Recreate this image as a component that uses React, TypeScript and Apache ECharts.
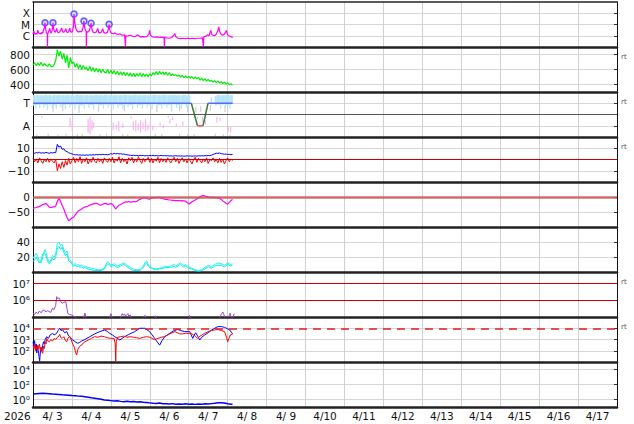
import React, { useEffect, useRef } from 'react';
import * as echarts from 'echarts';

const FONT = 'DejaVu Sans';

// x axis: hours since 2026-04-03 00:00, 15 days shown
const yearLabel = '2026';
const dayLabels = ['4/ 3', '4/ 4', '4/ 5', '4/ 6', '4/ 7', '4/ 8', '4/ 9', '4/10', '4/11', '4/12', '4/13', '4/14', '4/15', '4/16', '4/17'];

// Panel 1: X-ray flux, in units of 1e-6 W/m2 (C1 = 1)
const xrayClassLabels = ['C', 'M', 'X'];
const xray: number[][] = [[0,1.4],[0.5,2.5],[1,1.5],[1.5,1.3],[2,1.6],[2.5,1.4],[3,3.2],[3.5,1.8],[4,1.5],[4.5,1.7],[5,1.4],[5.5,2.0],[6,1.6],[6.5,3.5],[7,5],[7.4,14],[7.8,4],[8.3,1.8],[8.8,1.6],[8.9,0.1],[9.0,0.1],[9.1,1.6],[9.6,2.2],[10.3,4.5],[10.8,2],[11.3,1.8],[11.8,3],[12.3,14],[12.7,4],[13.2,2.5],[13.8,2],[14.6,4.5],[15.1,2.2],[15.7,1.8],[16.3,2.1],[17,3],[17.7,5],[18.2,2.4],[18.8,2],[19.5,2.4],[20.2,4.2],[20.8,2.2],[21.4,1.9],[22,2.3],[22.6,4.8],[23.2,2.3],[23.8,2],[24.4,2.6],[25,8],[25.3,85],[25.7,20],[26.2,6],[26.8,3],[27.5,2.4],[28.2,2.1],[28.9,2.6],[29.5,2.2],[30.2,2.5],[30.8,5],[31.4,20],[31.8,6],[32.3,3],[32.8,2.5],[32.9,0.1],[33.0,0.1],[33.1,2.3],[33.8,2.1],[34.5,2.5],[35.2,5],[35.8,13],[36.3,4],[36.9,2.2],[37.6,2],[38.3,1.9],[39,2.2],[39.9,4.5],[40.5,2],[41.2,1.8],[42,2],[43,4],[43.6,2],[44.3,1.8],[45,1.7],[45.8,2],[46.5,4],[46.9,10.3],[47.3,3.5],[47.9,2],[48.6,1.6],[49.5,1.5],[50.5,1.8],[51.5,1.4],[52.5,1.3],[53.5,1.5],[54.5,1.2],[55.5,1.1],[56.5,1.2],[57.0,0.1],[57.1,0.1],[57.2,1.0],[58.5,0.95],[60,1.1],[61.5,0.9],[63,0.85],[64.5,1.2],[66,0.8],[67.5,0.85],[69,0.8],[70.5,0.9],[71.5,1.6],[71.9,3],[72.3,1.2],[73.5,0.8],[75,0.75],[76.5,0.8],[78,0.7],[79.5,0.75],[80.8,0.7],[81.0,0.1],[81.1,0.1],[81.2,0.7],[82.5,0.65],[84,0.6],[85.5,0.7],[87,1.2],[87.4,1.6],[88,0.8],[89.5,0.6],[91,0.55],[92.5,0.6],[94,0.55],[95.5,0.6],[97,0.55],[98.5,0.6],[100,0.55],[101.5,0.6],[103,0.6],[104.5,0.65],[105.0,0.1],[105.1,0.1],[105.3,0.8],[106.5,0.9],[107.5,1.2],[108.5,1.0],[109.2,2.2],[109.6,3],[110.2,1.3],[111,1.1],[112,1.0],[113,1.4],[114,3],[114.5,6.3],[115,2.5],[116,1.3],[117,1.1],[118,1.4],[118.8,2.2],[119.2,3],[119.8,1.4],[120.5,1.0],[121.5,0.9],[122.3,0.8],[123.1,0.7]];
const flares: number[][] = [[7.4,14],[12.3,14],[25.3,85],[31.4,20],[35.8,13],[46.9,10.3]];

// Panel 2: solar wind speed (km/s), hourly from 0h
const speed = [660,690,650,685,655,695,645,680,655,640,675,645,635,665,720,860,780,845,740,815,690,790,620,760,680,700,630,680,610,665,600,655,605,630,585,640,578,625,570,618,565,610,558,602,565,555,600,548,590,545,585,535,578,528,570,522,565,518,560,512,555,508,550,502,545,510,552,502,545,508,540,500,542,515,560,528,572,530,578,536,570,528,565,524,560,520,540,520,532,508,526,500,522,492,515,488,510,482,505,475,500,475,495,458,485,450,478,445,468,442,455,432,452,425,445,420,438,412,430,405,422,398,410,392];

// Panel 3: IMF sector (T = 3, A = 1); streaks [h0, h1, low, high]
const sectorLabels = ['A', 'T'];
const towardBand: number[][] = [[0,1.4,2.78,3.72],[1.4,2.0,2.45,3.68],[2.0,3.8,2.86,3.74],[3.8,4.4,2.55,3.7],[4.4,6.2,2.9,3.72],[6.2,6.8,2.62,3.66],[6.8,8.6,2.82,3.75],[8.6,9.3,2.4,3.7],[9.3,11.5,2.88,3.72],[11.5,12.2,2.58,3.62],[12.2,14.0,2.8,3.74],[14.0,14.6,2.5,3.7],[14.6,16.8,2.92,3.73],[16.8,17.4,2.6,3.7],[17.4,19.6,2.84,3.72],[19.6,20.3,2.45,3.68],[20.3,22.4,2.9,3.74],[22.4,23.0,2.65,3.7],[23.0,25.5,2.86,3.72],[25.5,26.1,2.42,3.7],[26.1,28.3,2.88,3.75],[28.3,28.9,2.6,3.7],[28.9,31.2,2.82,3.72],[31.2,31.8,2.5,3.66],[31.8,34.0,2.9,3.73],[34.0,34.7,2.58,3.7],[34.7,37.0,2.85,3.72],[37.0,37.6,2.44,3.7],[37.6,40.1,2.9,3.74],[40.1,40.7,2.62,3.7],[40.7,43.0,2.84,3.72],[43.0,43.6,2.52,3.7],[43.6,46.0,2.88,3.75],[46.0,46.6,2.6,3.68],[46.6,49.2,2.86,3.72],[49.2,49.8,2.42,3.7],[49.8,52.0,2.9,3.73],[52.0,52.7,2.6,3.7],[52.7,55.0,2.83,3.72],[55.0,55.6,2.5,3.7],[55.6,58.2,2.88,3.74],[58.2,58.8,2.64,3.7],[58.8,61.0,2.85,3.72],[61.0,61.6,2.46,3.7],[61.6,64.0,2.9,3.75],[64.0,64.7,2.6,3.7],[64.7,67.1,2.84,3.72],[67.1,67.7,2.52,3.68],[67.7,70.0,2.9,3.73],[70.0,70.6,2.6,3.7],[70.6,73.0,2.86,3.72],[73.0,73.6,2.44,3.7],[73.6,76.1,2.9,3.74],[76.1,76.7,2.62,3.7],[76.7,79.0,2.84,3.72],[79.0,79.6,2.5,3.7],[79.6,82.2,2.88,3.75],[82.2,82.8,2.6,3.68],[82.8,85.0,2.86,3.72],[85.0,85.6,2.45,3.7],[85.6,88.1,2.9,3.73],[88.1,88.7,2.6,3.7],[88.7,91.0,2.85,3.72],[91.0,91.6,2.5,3.7],[91.6,94.2,2.9,3.74],[94.2,94.8,2.62,3.7],[94.8,97.0,2.86,3.7],[109.5,110.3,2.9,3.55],[112.0,113.2,2.8,3.65],[113.2,115.4,2.88,3.74],[115.4,116.0,2.48,3.7],[116.0,118.3,2.9,3.72],[118.3,118.9,2.6,3.7],[118.9,121.0,2.85,3.75],[121.0,121.6,2.5,3.7],[121.6,123.2,2.9,3.72]];
const awayBand: number[][] = [[22.5,23.3,0.9,1.7],[23.8,24.5,0.5,1.4],[33.6,34.3,0.4,1.6],[34.8,35.5,0.2,1.8],[36,36.7,0.6,1.5],[37,37.6,0.8,1.3],[49,49.7,0.6,1.3],[51,51.6,0.7,1.1],[52.5,53.1,0.5,1.4],[55,55.6,0.8,1.2],[61.5,62.2,0.6,1.4],[63,63.7,0.5,1.5],[64.5,65.1,0.6,1.2],[66,66.7,0.4,1.5],[67.5,68.1,0.7,1.3],[69,69.7,0.5,1.6],[70.5,71.1,0.6,1.1],[72,72.7,0.7,1.4],[73.5,74.1,0.6,1.0],[78,78.6,1.0,1.3],[80,80.6,0.8,1.1],[84,84.6,1.2,1.6],[85.6,86.2,1.5,1.8],[88,88.6,0.9,1.2],[92,92.6,1.0,1.4],[104,104.6,1.3,1.8],[106,106.6,1.1,1.5],[113,113.7,1.3,1.8],[115,115.6,1.4,1.7],[120,120.7,0.5,1.0],[121.5,122.2,0.4,0.9]];
const grayBand: number[][] = [[2,2.6,0.1,0.25],[9,9.6,0.1,0.3],[15,15.6,0.1,0.22],[20,20.6,0.12,0.28],[27,27.6,0.1,0.25],[30,30.6,0.1,0.3],[41,41.6,0.1,0.24],[45,45.6,0.12,0.3],[55,55.6,0.1,0.26],[58,58.6,0.1,0.22],[75,75.6,0.1,0.28],[79,79.6,0.1,0.25],[90,90.6,0.12,0.3],[95,95.6,0.1,0.24],[99,99.6,0.1,0.26],[112,112.6,0.1,0.3],[117,117.6,0.1,0.25],[121,121.6,0.1,0.22],[12,12.6,2.2,2.8],[18,18.6,2.3,2.85],[28,28.6,2.15,2.8],[40,40.6,2.25,2.85],[48,48.6,2.2,2.8],[56,56.6,2.3,2.85],[76,76.6,2.2,2.8],[85,85.6,2.25,2.85],[90,90.6,2.3,2.82],[95,95.6,2.2,2.8],[100,100.6,2.2,2.7],[103,103.6,2.25,2.75],[109,109.6,2.3,2.85],[118,118.6,2.2,2.8],[5,5.6,1.7,1.85],[60,60.6,1.65,1.85],[83,83.6,1.7,1.85],[101,101.6,1.6,1.8]];
const sector: number[][] = [[0,3],[97.6,3],[101.4,1],[104.8,1],[107.9,3],[123.1,3]];

// Panel 4: IMF Bt and Bz (nT), hourly from 0h
const bt = [6,5.5,6.2,5.8,6.4,5.6,6,5.7,6.3,5.9,5.5,6.1,5.8,6.2,6,13.5,11,12,9,9.5,7.5,7,6,5.5,5,4.5,4.1,4.3,3.9,4.2,3.8,4,3.7,4.1,3.8,4.2,3.9,4.3,4,4.4,4.1,4.5,4.2,4.6,4.3,4.4,4.2,4.5,5.2,4.8,5.5,5,5.4,4.9,5.2,4.7,4.9,4.4,4.2,3.9,3.8,3.5,3.8,3.4,3.6,3.3,3.7,3.4,3.6,3.2,3.5,3.3,3.6,3.4,3.7,3.3,3.5,3.2,3.4,3.6,3.3,3.5,3.2,3.4,3.1,3.3,3,3.2,3.4,3.1,3.3,3,3.2,2.9,3.1,3.3,3,3.2,2.9,3.1,3.2,3,3.3,3.1,3.4,3.2,3.5,3.3,3.6,3.4,3.8,4.5,5,5.6,5.4,5.8,5.2,5,4.7,4.9,4.5,4.6,4.3,4.5];
const bz = [1,-2,0.5,-3,1.5,-1,-3.5,0,-2,1,-2.5,0.5,-1.5,-3,0,-10,-4,-8,-2,-7,-1,-5,1,-4,-1,2,-3,1,-2,2.5,-3.5,0.5,-2,1.5,-4,0,-2.5,2,-1.5,-3,1,-2,0.5,-3.5,1.5,-1,-2.5,1,-2,2,-3,0.5,-1.5,2.5,-3,1,-2,0,-4,1.5,-1,2,-3,0.5,-2,2.5,-1,-3.5,1,-2,0,2,-2.5,1,-3,0.5,-1.5,2,-3,1,-2,0.5,-2.5,1.5,-1,-3,0,2,-2,1,-3.5,-0.5,1.5,-2,0.5,-3,1,-1.5,-4,0,2,-2.5,1,-1,-3,0.5,-2,1.5,-3.5,0,-1,1.5,-2,0,-3,1,-2.5,0.5,-4,-1,1.5,-2,0.5,-1];

// Panel 5: Dst (nT)
const dst: number[][] = [[0,-38],[1,-36],[2,-35],[3,-33],[4,-32],[5,-28],[6,-25],[7,-24],[8,-21],[9,-27],[10,-34],[11,-35],[12,-34],[13,-33],[14,-30],[15,-15],[16,-4],[17,-15],[18,-28],[19,-40],[20,-55],[21,-68],[22,-79],[23,-75],[24,-70],[25,-68],[26,-60],[27,-52],[28,-46],[29,-43],[30,-40],[31,-36],[32,-33],[33,-32],[34,-30],[35,-27],[36,-25],[37,-23],[38,-22],[39,-21],[40,-23],[41,-26],[42,-27],[43,-24],[44,-22],[45,-21],[46,-25],[47,-23],[48,-22],[49,-24],[50,-32],[51,-40],[52,-33],[53,-27],[54,-25],[55,-22],[56,-19],[57,-16],[58,-17],[59,-15],[60,-17],[61,-16],[62,-15],[63,-16],[64,-14],[65,-10],[66,-8],[67,-5],[68,-3],[69,-2],[70,-5],[71,-6],[72,-7],[73,-4],[74,-3],[75,-2],[76,-2],[77,-1],[78,-1],[79,-3],[80,-5],[81,-7],[82,-8],[83,-9],[84,-10],[85,-10],[86,-11],[87,-11],[88,-12],[89,-12],[90,-12],[91,-13],[92,-12],[93,-13],[94,-14],[95,-18],[96,-24],[97,-20],[98,-16],[99,-13],[100,-10],[101,-7],[102,-3],[103,1],[104,4],[105,5],[106,3],[107,1],[108,0],[109,-1],[110,-2],[111,-1],[112,-2],[113,-3],[114,-3],[115,-4],[116,-8],[117,-13],[118,-17],[119,-21],[120,-24],[121,-18],[122,-12],[123,-8]];

// Panel 6: two cyan indices
const cyanA: number[][] = [[0,18],[1,22],[2,25],[3,20],[4,14],[5,12],[6,20],[7,28],[7.5,30],[8,26],[9,18],[10,13],[11,16],[12,22],[13,20],[14,24],[15,38],[16,40],[17,35],[18,37],[19,30],[20,25],[21,28],[22,18],[23,16],[24,12],[25,10],[26,11],[27,9],[28,10],[29,8],[30,9],[31,7],[32,8],[34,6],[36,5],[38,4],[40,3],[42,3],[44,5],[45,10],[46,14],[47,12],[48,9],[50,11],[52,8],[54,10],[56,12],[57,11],[58,9],[60,6],[62,4],[64,3],[66,3],[67,5],[68,8],[69,12],[70,15],[71,10],[72,8],[73,6],[74,5],[76,4],[78,5],[80,6],[82,8],[84,7],[86,9],[87,10],[88,8],[90,11],[91,12],[92,10],[93,8],[94,10],[96,7],[98,5],[100,3],[102,2],[104,3],[106,6],[108,9],[110,7],[112,10],[114,12],[116,11],[118,9],[120,12],[122,10],[123,11]];
const cyanB: number[][] = [[0,14],[1,16],[2,20],[3,15],[4,12],[5,16],[6,24],[7,26],[8,22],[9,14],[10,11],[11,14],[12,18],[13,16],[14,20],[15,32],[16,34],[17,30],[18,33],[19,26],[20,22],[21,24],[22,15],[23,13],[24,10],[25,8],[26,9],[27,7],[28,8],[29,6],[30,7],[31,5],[32,6],[34,4],[36,3],[38,2],[40,2],[42,2],[44,4],[45,8],[46,11],[47,10],[48,7],[50,9],[52,6],[54,8],[56,10],[57,9],[58,7],[60,4],[62,2],[64,2],[66,2],[67,4],[68,6],[69,10],[70,12],[71,8],[72,6],[73,5],[74,4],[76,3],[78,4],[80,5],[82,6],[84,6],[86,7],[87,8],[88,6],[90,9],[91,10],[92,8],[93,6],[94,8],[96,5],[98,4],[100,2],[102,1],[104,2],[106,4],[108,7],[110,5],[112,8],[114,9],[116,9],[118,7],[120,10],[122,8],[123,9]];

// Panel 7: electron flux, log10
const electronLog: number[][] = [[0,5.22],[1,5.15],[2,5.3],[3,5.2],[4,5.36],[5,5.25],[6,5.4],[7,5.42],[8,5.3],[9,5.38],[10,5.32],[11,5.28],[12,5.52],[13,5.45],[14,5.7],[14.6,6.22],[15.2,6.1],[16,6.15],[16.5,6.06],[17,5.95],[18,5.82],[19,5.88],[20.2,5.92],[21,5.5],[21.4,5.22],[22.5,5.15],[23.9,5.12],[25,5.05],[26,5.0],[27,4.9],[31,4.9],[31.5,5.05],[32,5.24],[32.5,5.05],[33,4.9],[47,4.9],[47.5,5.05],[48,5.2],[48.5,5.05],[49,4.9],[54,4.9],[54.5,5.1],[55,5.2],[55.5,5.1],[56.5,5.18],[57,5.05],[58,5.15],[58.5,5.2],[59,5.05],[60,5.12],[60.5,4.9],[68,4.9],[69,5.1],[69.5,4.9],[75,4.9],[75.5,5.08],[76,4.9],[96,4.9],[96.5,5.1],[97,4.9],[115,4.9],[116,5.15],[117,5.3],[117.5,5.2],[118,5.05],[118.5,4.9],[120,4.9],[121,5.1],[121.5,5.22],[122,5.0],[123,4.9],[124,5.2]];

// Panel 8: two log10 series
const magBlueLog: number[][] = [[0,2.8],[0.5,2.4],[1,2.9],[1.5,2.2],[2,2.6],[2.3,1.8],[2.8,2.4],[3.3,2.0],[3.7,1.5],[4.1,1.1],[4.5,1.8],[5,2.3],[5.5,2.0],[6,2.5],[6.5,2.8],[7,2.6],[7.5,3.0],[8.4,3.25],[9.5,3.1],[10.5,3.4],[12.1,3.55],[13,3.4],[14.6,3.55],[15.5,3.8],[16.5,4.0],[17.3,3.8],[18.3,3.85],[19.5,3.6],[20.8,3.7],[21.7,3.4],[22.6,3.25],[23.5,3.1],[24.5,2.96],[26,2.8],[27.6,2.66],[28.8,2.75],[30,2.87],[32,3.0],[35,3.25],[38,3.5],[41.1,3.7],[44.2,3.85],[46,3.7],[47.3,3.55],[49,3.4],[50.4,3.25],[52,3.1],[53.5,2.96],[55,3.1],[56.5,3.25],[59,3.45],[62.7,3.7],[65.8,4.0],[68.9,4.0],[71.9,3.7],[73.5,3.4],[75,3.1],[76.5,2.8],[78.1,2.5],[79.5,2.9],[81.2,3.25],[84.3,3.55],[86.5,3.75],[89.2,3.9],[91,3.8],[93.5,3.7],[96.6,3.7],[97.5,3.4],[98.5,3.1],[99.4,3.4],[100.3,3.6],[101.5,3.3],[102.8,2.96],[104,3.2],[105.8,3.4],[108,3.6],[110.2,3.85],[112,4.0],[113.9,4.14],[116,4.15],[118.1,4.08],[120,3.95],[121.2,3.85],[122.2,3.65],[123.1,3.5]];
const magRedLog: number[][] = [[0,2.5],[0.5,2.2],[1,2.6],[1.5,2.0],[2,2.4],[2.5,2.1],[3,2.5],[3.5,2.2],[4,2.6],[4.5,2.0],[5,2.3],[5.5,1.9],[6,1.77],[6.5,2.4],[7,2.2],[7.5,2.8],[8,2.6],[8.5,3.1],[9,2.9],[10,2.8],[11,3.0],[12,2.85],[13,3.1],[14,3.0],[15,3.2],[16,3.3],[16.5,3.45],[17,3.2],[18,3.1],[19,3.25],[20,2.9],[20.8,2.8],[21.5,3.1],[22.6,3.3],[23.5,3.0],[24.5,2.6],[25.5,2.3],[26.2,1.9],[26.9,1.62],[27.6,2.1],[28.8,2.4],[30,2.5],[31,2.7],[32,2.8],[34,2.95],[36,3.1],[38,3.25],[40,3.2],[42,3.3],[44,3.25],[46,3.15],[48,3.1],[50,3.1],[50.7,2.6],[51.0,1.1],[51.3,2.8],[52.2,3.2],[54,3.25],[56,3.3],[58,3.2],[60,3.25],[62,3.2],[64,3.15],[66,3.1],[68,3.2],[70,3.25],[72,3.2],[74,3.05],[75,3.0],[77,3.1],[79,3.2],[81,3.25],[83,3.4],[85,3.55],[87.4,3.7],[89,3.6],[90.4,3.5],[92,3.5],[94,3.55],[96.6,3.55],[98,3.5],[100,3.3],[101.5,3.1],[103,3.3],[105.8,3.55],[108,3.7],[110,3.8],[111.9,3.85],[114,3.9],[116,3.8],[118.1,3.7],[119.3,3.2],[120,2.8],[120.8,3.1],[121.6,3.4],[123.1,3.5]];

// Panel 9: log10
const lowLog: number[][] = [[0,0.73],[2,0.78],[4,0.8],[6,0.82],[8,0.8],[10,0.78],[12,0.72],[14,0.69],[16,0.66],[18,0.62],[20,0.6],[22,0.57],[24,0.53],[26,0.5],[28,0.45],[30,0.42],[32,0.38],[34,0.3],[36,0.22],[38,0.16],[40,0.1],[42,0.02],[44,-0.07],[46,-0.1],[48,-0.15],[50,-0.2],[52,-0.18],[54,-0.25],[56,-0.29],[58,-0.22],[60,-0.3],[62,-0.27],[64,-0.32],[66,-0.3],[68,-0.38],[70,-0.4],[72,-0.45],[74,-0.5],[76,-0.52],[78,-0.48],[80,-0.56],[82,-0.58],[84,-0.6],[86,-0.55],[88,-0.62],[90,-0.6],[92,-0.64],[94,-0.58],[96,-0.63],[98,-0.6],[100,-0.65],[102,-0.6],[104,-0.63],[106,-0.58],[108,-0.6],[110,-0.55],[112,-0.5],[114,-0.44],[116,-0.42],[118,-0.48],[120,-0.58],[122,-0.62],[123,-0.64]];

const rtPanels = [1, 2, 3, 6, 7];
const supDigits = ['\u2070', '\u00b9', '\u00b2', '\u00b3', '\u2074', '\u2075', '\u2076', '\u2077', '\u2078', '\u2079'];

const hourly = (arr: number[]) => arr.map((v, i) => [i, v]);
const minus = (v: number) => String(v).replace('-', '\u2212');
const sup = (v: number) => '10' + supDigits[Math.round(v)];

const yDefs: any[] = [
  { min: -7, max: -3, ticks: [-6, -5, -4], labels: [-6, -5, -4], fmt: (v: number) => xrayClassLabels[v + 6] ?? '' },
  { min: 300, max: 900, ticks: [400, 600, 800], labels: [400, 600, 800], fmt: (v: number) => String(v) },
  { min: 0, max: 4, ticks: [1, 2, 3], labels: [1, 3], fmt: (v: number) => (v === 1 ? sectorLabels[0] : v === 3 ? sectorLabels[1] : '') },
  { min: -20, max: 20, ticks: [-10, 0, 10], labels: [-10, 0, 10], fmt: minus },
  { min: -100, max: 50, ticks: [-50, 0], labels: [-50, 0], fmt: minus },
  { min: 0, max: 60, ticks: [20, 40], labels: [20, 40], fmt: (v: number) => String(v) },
  { min: 5, max: 7.7, ticks: [6, 7], labels: [6, 7], fmt: sup },
  { min: 1, max: 5, ticks: [2, 3, 4], labels: [2, 3, 4], fmt: sup },
  { min: -1, max: 5, ticks: [0, 2, 4], labels: [0, 2, 4], fmt: sup },
];

const PANEL_TOP = 2;
const PANEL_H = 45;

function buildOption(): any {
  const grids = yDefs.map((_, i) => ({
    left: 33, right: 17, top: PANEL_TOP + PANEL_H * i, height: PANEL_H, outerBoundsMode: 'none', containLabel: false,
  }));
  const xAxes: any[] = yDefs.map((_, i) => ({
    type: 'value', gridIndex: i, min: 0, max: 360, interval: 24, position: 'bottom',
    axisLine: { show: true, onZero: false, lineStyle: { color: '#222', width: 2.5 } },
    axisTick: { show: false }, axisLabel: { show: false },
    splitLine: { show: true, lineStyle: { color: '#d0d0d0', width: 1 } },
  }));
  xAxes.push({
    type: 'value', gridIndex: 0, min: 0, max: 360, position: 'top',
    axisLine: { show: true, onZero: false, lineStyle: { color: '#222', width: 1.5 } },
    axisTick: { show: false }, axisLabel: { show: false }, splitLine: { show: false },
  });
  xAxes.push({
    type: 'category', gridIndex: 8, data: dayLabels, boundaryGap: true, position: 'bottom',
    axisLine: { show: false }, axisTick: { show: false }, splitLine: { show: false },
    axisLabel: { interval: 0, fontSize: 10.5, color: '#111', margin: 3, fontFamily: FONT, hideOverlap: false },
  });
  const yAxes: any[] = [];
  yDefs.forEach((d, i) => {
    yAxes.push({
      type: 'value', gridIndex: i, position: 'left', min: d.min, max: d.max,
      axisLine: { show: true, onZero: false, lineStyle: { color: '#111', width: 1 } },
      axisTick: { show: false, customValues: d.ticks },
      axisLabel: { customValues: d.labels, formatter: d.fmt, fontSize: 10.5, lineHeight: 11, color: '#111', margin: 3, fontFamily: FONT, hideOverlap: false },
      splitLine: { show: true, lineStyle: { color: '#d6d6d6', width: 1 } },
    });
  });
  yDefs.forEach((d, i) => {
    yAxes.push({
      type: 'value', gridIndex: i, position: 'right', min: d.min, max: d.max,
      axisLine: { show: true, onZero: false, lineStyle: { color: '#111', width: 1 } },
      axisTick: { show: true, inside: true, length: 3, customValues: d.ticks, lineStyle: { color: '#333' } },
      axisLabel: { show: false }, splitLine: { show: false },
    });
  });

  const line = (g: number, data: any[], color: string, width = 1, extra: any = {}) => ({
    type: 'line', xAxisIndex: g, yAxisIndex: g, data, showSymbol: false, symbol: 'none',
    lineStyle: { color, width }, itemStyle: { color }, silent: true, ...extra,
  });
  const refLine = (g: number, values: number[], color: string, width: number, type: any = 'solid') => ({
    type: 'line', xAxisIndex: g, yAxisIndex: g, data: [], silent: true,
    markLine: {
      silent: true, symbol: 'none', label: { show: false },
      lineStyle: { color, width, type },
      data: values.map((v) => ({ yAxis: v })),
    },
  });
  const streaks = (g: number, data: number[][], color: string) => ({
    type: 'custom', xAxisIndex: g, yAxisIndex: g, data, silent: true,
    encode: { x: [0, 1], y: [2, 3] },
    renderItem: (_p: any, api: any) => {
      const a = api.coord([api.value(0), api.value(3)]);
      const b = api.coord([api.value(1), api.value(2)]);
      return {
        type: 'rect',
        shape: { x: a[0], y: a[1], width: Math.max(1.2, b[0] - a[0]), height: b[1] - a[1] },
        style: { fill: color },
      };
    },
  });

  const series: any[] = [
    line(0, xray.map(([h, v]) => [h, Math.log10(v) - 6]), '#ff00ff', 1.2),
    {
      type: 'scatter', xAxisIndex: 0, yAxisIndex: 0, silent: true,
      data: flares.map(([h, v]) => [h, Math.log10(v) - 6]),
      symbol: 'circle', symbolSize: 6,
      itemStyle: { color: '#d0d0ff', borderColor: '#3535ff', borderWidth: 1.5 },
    },
    line(1, hourly(speed), '#00ee00', 1.2),
    streaks(2, grayBand, '#cfcfcf'),
    streaks(2, towardBand, '#b2e5fb'),
    streaks(2, awayBand, '#f7b6ef'),
    refLine(2, [2], '#555', 1),
    line(2, sector.slice(0, 2), '#5b6af0', 1.5),
    line(2, sector.slice(1, 3), '#3c7a3c', 1.5),
    line(2, sector.slice(2, 4), '#ff5050', 1.5),
    line(2, sector.slice(3, 5), '#3c7a3c', 1.5),
    line(2, sector.slice(4, 6), '#5b6af0', 1.5),
    line(3, hourly(bt), '#0000ff', 1),
    line(3, hourly(bz), '#ff0000', 1),
    refLine(3, [0], '#cc0000', 1),
    refLine(4, [0], 'rgba(205,85,85,0.85)', 2.5),
    line(4, dst, '#ff00ff', 1.2),
    line(5, cyanB, '#00eeee', 1),
    line(5, cyanA, '#22f0f0', 1),
    refLine(6, [6, 7], '#cc0000', 1),
    line(6, electronLog, '#a040d0', 1),
    line(7, magBlueLog, '#0000ff', 1),
    line(7, magRedLog, '#ff0000', 1),
    refLine(7, [4], '#e02020', 1.5, [8, 6]),
    line(8, lowLog, '#0000ff', 1.5),
  ];

  const graphic: any[] = [
    { type: 'text', left: 4, top: 410, silent: true, style: { text: yearLabel, fontSize: 10.5, fill: '#111', fontFamily: FONT } },
    ...rtPanels.map((p) => ({
      type: 'text', left: 621, top: PANEL_TOP + PANEL_H * p + 6, silent: true,
      style: { text: 'rt', fontSize: 7, fill: '#555', fontFamily: FONT },
    })),
  ];

  return {
    animation: false,
    backgroundColor: '#ffffff',
    textStyle: { fontFamily: FONT },
    grid: grids,
    xAxis: xAxes,
    yAxis: yAxes,
    series,
    graphic,
  };
}

export default function App() {
  const ref = useRef<HTMLDivElement>(null);
  useEffect(() => {
    if (!ref.current) return;
    const chart = echarts.init(ref.current, null, { renderer: 'svg' });
    chart.setOption(buildOption());
    return () => chart.dispose();
  }, []);
  return <div ref={ref} style={{ position: 'fixed', left: 0, top: 0, width: 634, height: 424 }} />;
}
